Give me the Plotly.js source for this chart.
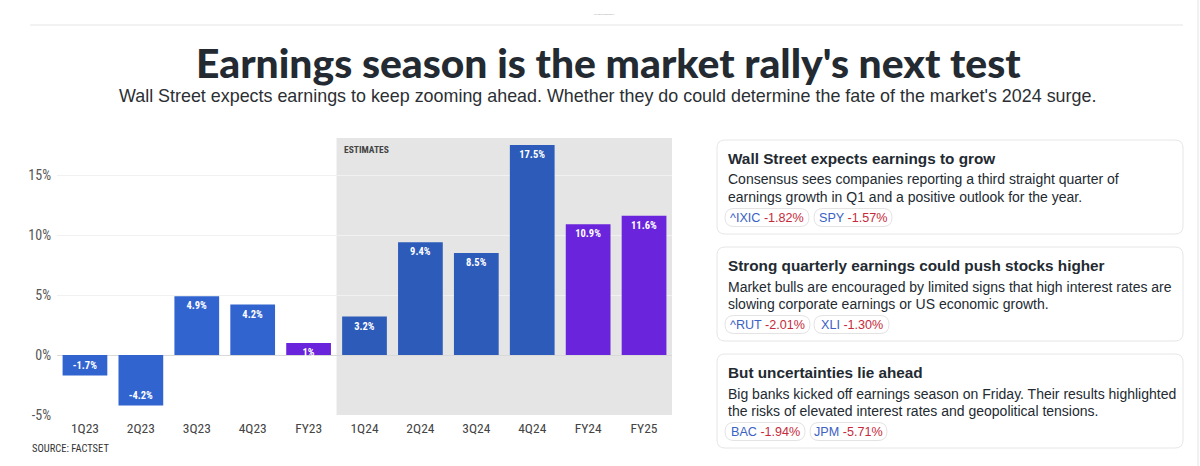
<!DOCTYPE html>
<html><head><meta charset="utf-8">
<script src="https://cdn.plot.ly/plotly-3.0.1.min.js"></script>
<style>html,body{margin:0;padding:0;background:#fff;overflow:hidden}#chart{width:1200px;height:466px}</style>
</head><body><div id="chart"></div>
<script>
// ---- data ----
const categories = ['1Q23','2Q23','3Q23','4Q23','FY23','1Q24','2Q24','3Q24','4Q24','FY24','FY25'];
const growth = [-1.7,-4.2,4.9,4.2,1.0,3.2,9.4,8.5,17.5,10.9,11.6];
const growthLabels = ['-1.7%','-4.2%','4.9%','4.2%','1%','3.2%','9.4%','8.5%','17.5%','10.9%','11.6%'];
const periodKind = ['actual','actual','actual','actual','year','estimate','estimate','estimate','estimate','year','year'];
const yTickVals = [-5,0,5,10,15];
const yTickText = ['-5%','0%','5%','10%','15%'];
const estimateFirst = '1Q24';
const estimateLast = 'FY25';

const cardTitles = ['Wall Street expects earnings to grow','Strong quarterly earnings could push stocks higher','But uncertainties lie ahead'];
const cardLines = [
  ['Consensus sees companies reporting a third straight quarter of','earnings growth in Q1 and a positive outlook for the year.'],
  ['Market bulls are encouraged by limited signs that high interest rates are','slowing corporate earnings or US economic growth.'],
  ['Big banks kicked off earnings season on Friday. Their results highlighted','the risks of elevated interest rates and geopolitical tensions.']
];
const cardTickers = [['^IXIC','SPY'],['^RUT','XLI'],['BAC','JPM']];
const cardChanges = [['-1.82%','-1.57%'],['-2.01%','-1.30%'],['-1.94%','-5.71%']];

// ---- styles / geometry ----
const W = 1200, H = 466;
const px = x => x / W;
const py = y => 1 - y / H;
const kindColor = {actual:'#3164cf', estimate:'#2c5bb9', year:'#6a24dc'};
const NARROW = '"Liberation Sans Narrow", "Arial Narrow", "Roboto Condensed", "Liberation Sans", sans-serif';
const SANS = '"Liberation Sans", Arial, sans-serif';
const DARK = '#232a31';

function roundRect(x0,y0,x1,y1,r){
  const X0=px(x0),X1=px(x1),Y0=py(y0),Y1=py(y1),rx=r/W,ry=r/H;
  return `M${X0+rx},${Y0} L${X1-rx},${Y0} Q${X1},${Y0} ${X1},${Y0-ry} L${X1},${Y1+ry} Q${X1},${Y1} ${X1-rx},${Y1} L${X0+rx},${Y1} Q${X0},${Y1} ${X0},${Y1+ry} L${X0},${Y0-ry} Q${X0},${Y0} ${X0+rx},${Y0} Z`;
}

const trace = {
  type:'bar', x:categories, y:growth,
  marker:{color: periodKind.map(k => kindColor[k]), line:{width:0}},
  width:0.8,
  text:growthLabels, textposition:'inside', insidetextanchor:'end', textangle:0,
  constraintext:'none',
  textfont:{family:NARROW, size:10.5, color:'#ffffff', weight:'bold'},
  hoverinfo:'skip', cliponaxis:false
};

const shapes = [];
const annotations = [];
const i0 = categories.indexOf(estimateFirst) - 0.5, i1 = categories.indexOf(estimateLast) + 0.5;
shapes.push({type:'rect', xref:'x', yref:'y domain', x0:i0, x1:i1, y0:0, y1:1, fillcolor:'#e5e5e5', line:{width:0}, layer:'below'});
// header rule and right edge
shapes.push({type:'line', xref:'paper', yref:'paper', x0:px(30), x1:px(1183), y0:py(25), y1:py(25), line:{color:'#eeeeee', width:1.5}});
shapes.push({type:'line', xref:'paper', yref:'paper', x0:px(1198), x1:px(1198), y0:py(0), y1:py(466), line:{color:'#ececec', width:1.5}});

annotations.push({xref:'x', yref:'y domain', x:i0, y:1, xanchor:'left', yanchor:'top', xshift:5, yshift:-4, showarrow:false,
  text:'ESTIMATES', font:{family:NARROW, size:9.5, color:'#444', weight:'bold'}});
annotations.push({xref:'paper', yref:'paper', x:px(604), y:py(11), showarrow:false, text:'ADVERTISEMENT', font:{family:SANS, size:2.5, color:'#aaaaaa'}});
annotations.push({xref:'paper', yref:'paper', x:px(608), y:py(63), xanchor:'center', yanchor:'middle', showarrow:false,
  text:"Earnings season is the market rally's next test", font:{family:'Lato, "Liberation Sans", sans-serif', size:40.8, color:DARK, weight:900}});
annotations.push({xref:'paper', yref:'paper', x:px(607), y:py(96), xanchor:'center', yanchor:'middle', showarrow:false,
  text:"Wall Street expects earnings to keep zooming ahead. Whether they do could determine the fate of the market's 2024 surge.",
  font:{family:SANS, size:17.9, color:'#2b2f33'}});
annotations.push({xref:'paper', yref:'paper', x:px(30), y:py(448), xanchor:'left', yanchor:'middle', showarrow:false,
  text:'SOURCE: FACTSET', font:{family:NARROW, size:10.5, color:'#333'}});

// cards
const cardTop = [140, 247, 354];
const pillX = [[[725,809],[814,892]], [[725,810],[814,889]], [[725,805],[810,887]]];
cardTitles.forEach((t, c) => {
  const top = cardTop[c];
  shapes.push({type:'path', xref:'paper', yref:'paper', path:roundRect(717, top, 1183, top+94, 8), line:{color:'#e6e6e6', width:1}, fillcolor:'rgba(0,0,0,0)'});
  annotations.push({xref:'paper', yref:'paper', x:px(726), y:py(top+18.5), xanchor:'left', yanchor:'middle', showarrow:false,
    text:t, font:{family:SANS, size:15.3, color:DARK, weight:'bold'}});
  cardLines[c].forEach((ln, j) => {
    annotations.push({xref:'paper', yref:'paper', x:px(726), y:py(top+39.5+j*17), xanchor:'left', yanchor:'middle', showarrow:false,
      text:ln, font:{family:SANS, size:14, color:DARK}});
  });
  cardTickers[c].forEach((tk, j) => {
    const [a, b] = pillX[c][j];
    shapes.push({type:'path', xref:'paper', yref:'paper', path:roundRect(a, top+68.5, b, top+86.5, 9), line:{color:'#e3e3e3', width:1}, fillcolor:'rgba(0,0,0,0)'});
    annotations.push({xref:'paper', yref:'paper', x:px((a+b)/2), y:py(top+77.5), xanchor:'center', yanchor:'middle', showarrow:false,
      text:`<span style="color:#3a62c4">${tk}</span> <span style="color:#c62a3a">${cardChanges[c][j]}</span>`,
      font:{family:SANS, size:12.6, color:'#3a62c4'}});
  });
});

const layout = {
  width:W, height:H, margin:{l:0,r:0,t:0,b:0}, paper_bgcolor:'#ffffff', plot_bgcolor:'rgba(0,0,0,0)',
  showlegend:false, bargap:0.2,
  xaxis:{domain:[px(57), px(672)], type:'category', showgrid:false, zeroline:false, showline:false, ticks:'',
    tickfont:{family:NARROW, size:13.5, color:'#444'}, ticklabelstandoff:3, fixedrange:true, range:[-0.5, categories.length-0.5]},
  yaxis:{domain:[py(415), py(138)], range:[-5, -5 + 277/12], tickvals:yTickVals, ticktext:yTickText,
    showgrid:true, gridcolor:'#f1f1f1', gridwidth:1, zeroline:true, zerolinecolor:'#d9d9d9', zerolinewidth:1,
    showline:false, ticks:'', tickfont:{family:NARROW, size:14, color:'#555'}, ticklabelstandoff:5, fixedrange:true},
  shapes, annotations
};
Plotly.newPlot('chart', [trace], layout, {displayModeBar:false, staticPlot:true});
</script></body></html>
